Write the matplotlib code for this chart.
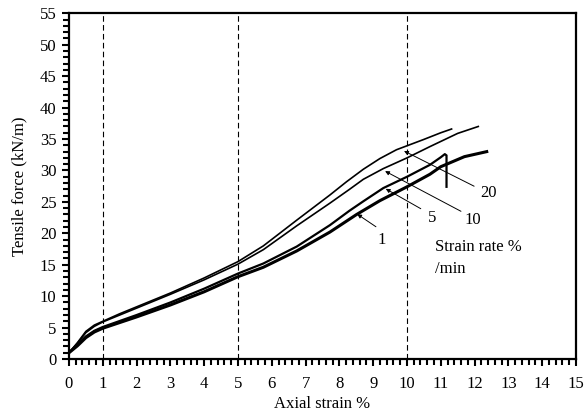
import matplotlib
matplotlib.use('Agg')
import matplotlib.pyplot as plt
from matplotlib.ticker import MultipleLocator

plt.rcParams['font.family'] = ['Liberation Serif', 'DejaVu Serif']

# strain rate 20 %/min
x20 = [0, 0.25, 0.5, 0.75, 1, 1.5, 2, 3, 4, 5, 5.75, 6.74, 7.72, 8.21, 8.71, 9.2, 9.69, 10.48, 11.0, 11.32]
y20 = [1.0, 2.6, 4.4, 5.4, 6.0, 7.2, 8.3, 10.5, 12.9, 15.5, 18.0, 22.1, 26.1, 28.2, 30.2, 31.9, 33.3, 34.9, 36.0, 36.6]
# strain rate 10 %/min
x10 = [0, 0.25, 0.5, 0.75, 1, 1.5, 2, 3, 4, 5, 5.75, 6.74, 7.72, 8.3, 8.71, 9.3, 10.0, 10.68, 11.5, 12.11]
y10 = [1.0, 2.5, 4.2, 5.2, 5.9, 7.0, 8.1, 10.3, 12.6, 15.1, 17.4, 21.2, 24.8, 27.0, 28.6, 30.3, 32.0, 33.8, 35.9, 37.0]
# strain rate 5 %/min (ends with drop)
x5 = [0, 0.25, 0.5, 0.75, 1, 2, 3, 4, 5, 5.75, 6.74, 7.72, 8.3, 8.71, 9.3, 10.0, 10.68, 11.0, 11.12, 11.17, 11.17]
y5 = [1.0, 2.3, 3.6, 4.5, 5.1, 7.0, 9.0, 11.2, 13.6, 15.2, 17.9, 21.3, 23.6, 25.1, 27.2, 29.0, 30.9, 32.1, 32.6, 32.4, 27.4]
# strain rate 1 %/min
x1 = [0, 0.25, 0.5, 0.75, 1, 2, 3, 4, 5, 5.75, 6.74, 7.72, 8.51, 9.2, 10.0, 10.68, 11.0, 11.7, 12.36]
y1 = [1.0, 2.1, 3.4, 4.3, 4.9, 6.7, 8.6, 10.7, 13.1, 14.6, 17.2, 20.2, 23.0, 25.2, 27.4, 29.4, 30.6, 32.2, 33.0]

vlines = [1, 5, 10]

# label text, arrow tip on curve, label position
labels = ['20', '10', '5', '1']
tips = [(9.84, 33.3), (9.28, 30.1), (9.3, 27.3), (8.46, 23.3)]
label_pos = [(12.4, 26.4), (11.95, 22.1), (10.73, 22.4), (9.25, 18.9)]
tails = [(12.06, 27.3), (11.67, 23.3), (10.48, 23.7), (9.15, 20.8)]

fig = plt.figure(figsize=(5.87, 4.17), dpi=100)
ax = fig.add_axes([0.1175, 0.139, 0.8637, 0.829])

ax.plot(x20, y20, color='k', lw=1.2)
ax.plot(x10, y10, color='k', lw=1.2)
ax.plot(x5, y5, color='k', lw=1.6)
ax.plot(x1, y1, color='k', lw=2.2)

for v in vlines:
    ax.axvline(v, color='k', lw=0.8, ls=(0, (5, 3)))

for lab, tip, tail, pos in zip(labels, tips, tails, label_pos):
    ax.annotate('', xy=tip, xytext=tail,
                arrowprops=dict(arrowstyle='-|>', color='k', lw=0.7, mutation_scale=6))
    ax.text(pos[0], pos[1], lab, fontsize=12, ha='center', va='center')

ax.text(10.83, 17.9, 'Strain rate %', fontsize=12, ha='left', va='center')
ax.text(10.83, 14.4, '/min', fontsize=12, ha='left', va='center')

ax.set_xlim(0, 15)
ax.set_ylim(0, 55)
ax.xaxis.set_major_locator(MultipleLocator(1))
ax.xaxis.set_minor_locator(MultipleLocator(0.2))
ax.yaxis.set_major_locator(MultipleLocator(5))
ax.yaxis.set_minor_locator(MultipleLocator(1))
ax.tick_params(axis='both', which='both', direction='out', width=1.5, labelsize=12)
ax.tick_params(axis='both', which='major', length=5)
ax.tick_params(axis='both', which='minor', length=4)
ax.tick_params(axis='x', which='major', pad=7)
ax.tick_params(axis='y', which='major', pad=4)
for s in ax.spines.values():
    s.set_linewidth(1.6)

ax.set_xlabel('Axial strain %', fontsize=12, labelpad=3)
ax.set_ylabel('Tensile force (kN/m)', fontsize=12, labelpad=9)

fig.savefig('out.png', dpi=100)
